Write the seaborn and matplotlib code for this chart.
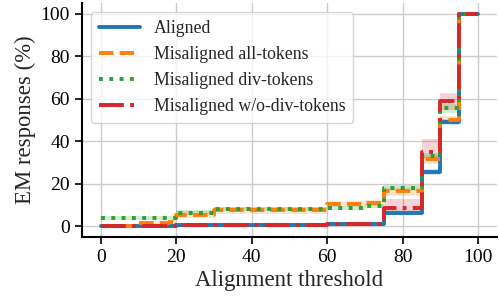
import matplotlib
matplotlib.use("Agg")
import matplotlib.pyplot as plt
import seaborn as sns
import numpy as np
import pandas as pd

# Step breakpoints of the alignment threshold (values hold until the next breakpoint)
thresholds = [0, 10, 18, 20, 30, 60, 70, 75, 85, 90, 95, 100]

aligned = [0, 0, 0, 0.5, 0.5, 1, 1, 6.5, 25.5, 49, 100, 100]
mis_all = [0, 1.5, 2, 5.5, 7.5, 10.5, 11, 16.5, 31.5, 50, 100, 100]
mis_div = [4, 4, 4, 6.5, 8, 8.5, 9.5, 18, 33, 55.5, 100, 100]
mis_wo_div = [0, 0, 0, 0.5, 0.5, 1, 1, 8.5, 35, 59, 100, 100]

# confidence bands (lower, upper)
aligned_lo = [0, 0, 0, 0.2, 0.2, 0.6, 0.6, 5.5, 24, 47.5, 100, 100]
aligned_hi = [0, 0, 0, 0.8, 0.8, 1.4, 1.4, 7.5, 27, 50.5, 100, 100]
mis_all_lo = [0, 0.5, 1, 4, 6, 9, 9.5, 14.5, 29.5, 48, 100, 100]
mis_all_hi = [0, 2.5, 3, 7, 9, 12, 12.5, 18.5, 33.5, 52, 100, 100]
mis_div_lo = [3, 3, 3, 5.5, 7, 7.5, 8.5, 16.5, 31.5, 53.5, 100, 100]
mis_div_hi = [5, 5, 5, 7.5, 9, 9.5, 10.5, 19.5, 34.5, 57.5, 100, 100]
mis_wo_lo = [0, 0, 0, 0.2, 0.2, 0.6, 0.6, 6, 32, 55, 100, 100]
mis_wo_hi = [0, 0, 0, 0.8, 0.8, 1.4, 1.4, 13, 41, 63, 100, 100]

labels = ["Aligned", "Misaligned all-tokens", "Misaligned div-tokens",
          "Misaligned w/o-div-tokens"]
series = [aligned, mis_all, mis_div, mis_wo_div]
lows = [aligned_lo, mis_all_lo, mis_div_lo, mis_wo_lo]
highs = [aligned_hi, mis_all_hi, mis_div_hi, mis_wo_hi]
styles = ["-", "--", ":", "-."]

sns.set_theme(style="ticks", rc={"axes.grid": True, "grid.color": "#cccccc",
                                 "grid.linewidth": 1.0})
plt.rcParams["font.family"] = ["Liberation Serif", "DejaVu Serif"]
plt.rcParams["mathtext.fontset"] = "stix"

colors = sns.color_palette("tab10", 4)

fig = plt.figure(figsize=(4.99, 3.05), dpi=100)
ax = fig.add_axes([0.164, 0.223, 0.832, 0.766])

df = pd.DataFrame({
    "threshold": thresholds * 4,
    "value": aligned + mis_all + mis_div + mis_wo_div,
    "series": np.repeat(labels, len(thresholds)),
})

for lab, lo, hi, c in zip(labels, lows, highs, colors):
    ax.fill_between(thresholds, lo, hi, step="post", color=c, alpha=0.2,
                    linewidth=0)

sns.lineplot(data=df, x="threshold", y="value", hue="series", style="series",
             palette=colors, dashes=False, drawstyle="steps-post",
             linewidth=2.8, ax=ax, legend=False)
for line, ls in zip(ax.get_lines(), styles):
    line.set_linestyle(ls)

handles = [plt.Line2D([], [], color=c, linestyle=ls, linewidth=2.8)
           for c, ls in zip(colors, styles)]
ax.legend(handles, labels, loc="upper left", fontsize=12.8, handlelength=2.3,
          frameon=True, borderpad=0.45, labelspacing=0.5, handletextpad=0.8)

ax.set_xlim(-5, 105)
ax.set_ylim(-5, 105)
ax.set_xticks([0, 20, 40, 60, 80, 100])
ax.set_yticks([0, 20, 40, 60, 80, 100])
ax.tick_params(labelsize=14, width=1.2, length=5, colors="black")
for s in ["left", "bottom"]:
    ax.spines[s].set_color("black")
    ax.spines[s].set_linewidth(1.5)
sns.despine(ax=ax)

ax.set_xlabel("Alignment threshold", fontsize=16.4, labelpad=3)
ax.set_ylabel("EM responses (%)", fontsize=16.4, labelpad=3)

fig.savefig("out.png", dpi=100)
